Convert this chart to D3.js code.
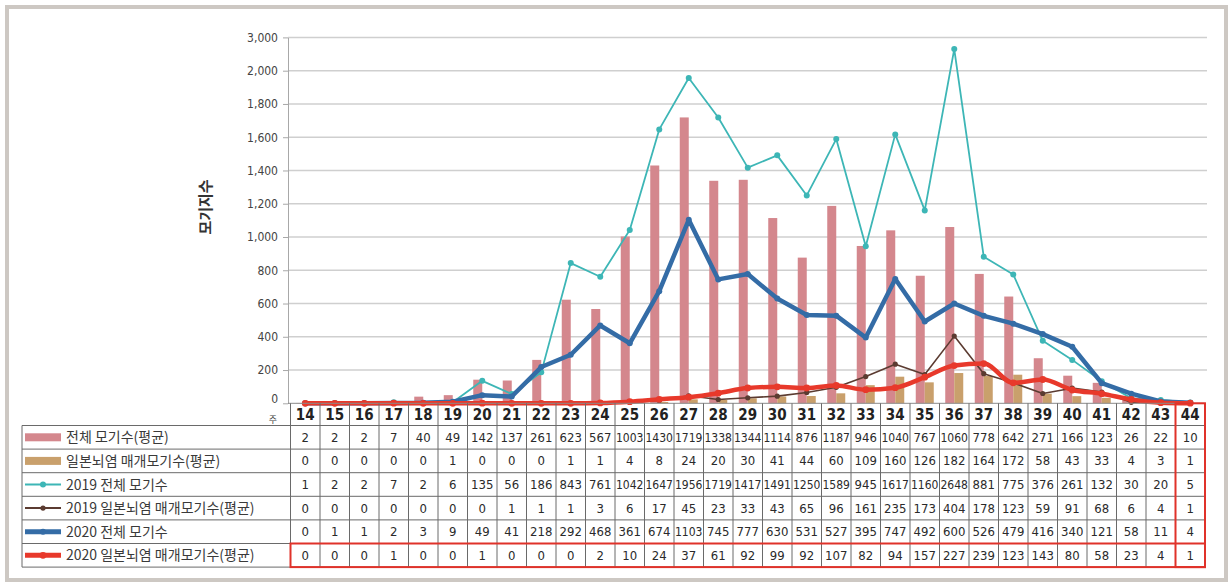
<!DOCTYPE html>
<html>
<head>
<meta charset="utf-8">
<script src="https://cdn.jsdelivr.net/npm/d3@7/dist/d3.min.js"></script>
<style>
  body { margin: 0; background: #fff; }
  svg text { font-family: "DejaVu Sans Condensed", "DejaVu Sans", sans-serif; }
  .kr { font-family: "Noto Sans CJK KR", "Noto Sans", sans-serif; }
</style>
</head>
<body>
<div id="chart"></div>
<script>
// weeks (x categories)
const weeks = ["14","15","16","17","18","19","20","21","22","23","24","25","26","27","28","29","30","31","32","33","34","35","36","37","38","39","40","41","42","43","44"];

// y tick labels (axis is broken above 2,000)
const yTicks = [0, 200, 400, 600, 800, 1000, 1200, 1400, 1600, 1800, 2000, 3000];

// series values, one per week
const avgTotal = [2,2,2,7,40,49,142,137,261,623,567,1003,1430,1719,1338,1344,1114,876,1187,946,1040,767,1060,778,642,271,166,123,26,22,10];
const avgJE = [0,0,0,0,0,1,0,0,0,1,1,4,8,24,20,30,41,44,60,109,160,126,182,164,172,58,43,33,4,3,1];
const total2019 = [1,2,2,7,2,6,135,56,186,843,761,1042,1647,1956,1719,1417,1491,1250,1589,945,1617,1160,2648,881,775,376,261,132,30,20,5];
const je2019 = [0,0,0,0,0,0,0,1,1,1,3,6,17,45,23,33,43,65,96,161,235,173,404,178,123,59,91,68,6,4,1];
const total2020 = [0,1,1,2,3,9,49,41,218,292,468,361,674,1103,745,777,630,531,527,395,747,492,600,526,479,416,340,121,58,11,4];
const je2020 = [0,0,0,1,0,0,1,0,0,0,2,10,24,37,61,92,99,92,107,82,94,157,227,239,123,143,80,58,23,4,1];

// series names (table row labels)
const barNames = ["전체 모기수(평균)", "일본뇌염 매개모기수(평균)"];
const lineNames = ["2019 전체 모기수", "2019 일본뇌염 매개모기수(평균)", "2020 전체 모기수", "2020 일본뇌염 매개모기수(평균)"];

// styles kept apart from the data
const barColors = ["#d4878d", "#c9a06c"];
const lineStyle = [
  {color: "#3db6b6", width: 1.8, r: 3},
  {color: "#5b3b31", width: 1.6, r: 2.6},
  {color: "#346ca6", width: 4.5, r: 3},
  {color: "#e8392b", width: 4.5, r: 3.4}
];

const W = 1229, H = 583;

const svg = d3.select("#chart").append("svg")
  .attr("width", W)
  .attr("height", H);

// outer frame
svg.append("rect")
  .attr("x", 7).attr("y", 7)
  .attr("width", 1219).attr("height", 573)
  .attr("fill", "#fff")
  .attr("stroke", "#cdc8c3")
  .attr("stroke-width", 4);

// scales
const x = d3.scaleBand().domain(weeks).range([290.5, 1205]);
const y = d3.scaleLinear().domain([0, 2000, 3000]).range([403.3, 70.7, 37.4]);
const xSub = d3.scaleBand().domain(barNames).range([-9, 9]);
const cx = w => x(w) + x.bandwidth() / 2;

const gridRight = 1207, axisX = 288;

// gridlines
svg.append("g")
  .selectAll("line")
  .data(yTicks.filter(t => t > 0))
  .enter().append("line")
    .attr("x1", axisX).attr("x2", gridRight)
    .attr("y1", d => y(d)).attr("y2", d => y(d))
    .attr("stroke", "#cfcfcf")
    .attr("stroke-width", 1.5);

// y axis
const yAxis = svg.append("g")
  .attr("transform", `translate(${axisX},0)`)
  .call(d3.axisLeft(y).tickValues(yTicks).tickSize(5).tickSizeOuter(0).tickFormat(d3.format(",")));
yAxis.select(".domain").attr("stroke", "#a8a8a8");
yAxis.selectAll(".tick line").attr("stroke", "#a8a8a8");
yAxis.selectAll(".tick text")
  .attr("x", -10)
  .attr("fill", "#444")
  .attr("font-size", 12)
  .attr("font-family", "DejaVu Sans Condensed, sans-serif");
// zero label sits a bit higher to leave room for "주"
yAxis.selectAll(".tick text").filter(d => d === 0).attr("dy", "-0.05em");

// y title
svg.append("text")
  .attr("class", "kr")
  .attr("transform", "translate(211,207) rotate(-90)")
  .attr("text-anchor", "middle")
  .attr("font-size", 15)
  .attr("font-weight", "bold")
  .attr("fill", "#333")
  .text("모기지수");

// bars
const barSeries = [avgTotal, avgJE];
barSeries.forEach((vals, s) => {
  svg.append("g")
    .selectAll("rect")
    .data(vals)
    .enter().append("rect")
      .attr("x", (d, i) => cx(weeks[i]) + xSub(barNames[s]))
      .attr("width", xSub.bandwidth())
      .attr("y", d => y(d))
      .attr("height", d => y(0) - y(d))
      .attr("fill", barColors[s]);
});

// lines
const lineSeries = [total2019, je2019, total2020, je2020];
lineSeries.forEach((vals, s) => {
  const st = lineStyle[s];
  const line = d3.line()
    .x((d, i) => cx(weeks[i]))
    .y(d => y(d));
  if (s === 3) line.curve(d3.curveMonotoneX);

  svg.append("path")
    .datum(vals)
    .attr("fill", "none")
    .attr("stroke", st.color)
    .attr("stroke-width", st.width)
    .attr("stroke-linejoin", "round")
    .attr("d", line);

  svg.append("g")
    .selectAll("circle")
    .data(vals)
    .enter().append("circle")
      .attr("cx", (d, i) => cx(weeks[i]))
      .attr("cy", d => y(d))
      .attr("r", st.r)
      .attr("fill", st.color);
});

// "주" under zero label
svg.append("text")
  .attr("class", "kr")
  .attr("x", 273).attr("y", 423)
  .attr("text-anchor", "middle")
  .attr("font-size", 9)
  .attr("fill", "#444")
  .text("주");

// data table
const tableTop = 403.3, headH = 22.2, rowH = 23.6;
const labelLeft = 22, tableRight = x.range()[1];
const rows = [avgTotal, avgJE, total2019, je2019, total2020, je2020];
const rowNames = barNames.concat(lineNames);
const bodyTop = tableTop + headH;
const tableBottom = bodyTop + rows.length * rowH;

const table = svg.append("g");

// header numbers
table.selectAll(".wk")
  .data(weeks)
  .enter().append("text")
    .attr("x", d => cx(d))
    .attr("y", tableTop + headH / 2 + 5.5)
    .attr("text-anchor", "middle")
    .attr("font-size", 15)
    .attr("font-weight", "bold")
    .attr("fill", "#222")
    .text(d => d);

// horizontal lines
table.selectAll(".hl")
  .data(d3.range(rows.length + 1))
  .enter().append("line")
    .attr("x1", labelLeft).attr("x2", tableRight)
    .attr("y1", i => bodyTop + i * rowH).attr("y2", i => bodyTop + i * rowH)
    .attr("stroke", "#6a6a6a").attr("stroke-width", 1);

// baseline of plot / top of header
table.append("line")
  .attr("x1", axisX).attr("x2", tableRight)
  .attr("y1", tableTop).attr("y2", tableTop)
  .attr("stroke", "#8a8a8a");

// vertical lines
table.selectAll(".vl")
  .data(weeks.concat(["end"]))
  .enter().append("line")
    .attr("x1", d => d === "end" ? tableRight : x(d))
    .attr("x2", d => d === "end" ? tableRight : x(d))
    .attr("y1", tableTop).attr("y2", tableBottom)
    .attr("stroke", "#6a6a6a").attr("stroke-width", 1);

table.append("line")
  .attr("x1", labelLeft).attr("x2", labelLeft)
  .attr("y1", bodyTop).attr("y2", tableBottom)
  .attr("stroke", "#6a6a6a");

// row cells
rows.forEach((vals, r) => {
  const cy = bodyTop + r * rowH + rowH / 2 + 4.5;
  table.append("g")
    .selectAll("text")
    .data(vals)
    .enter().append("text")
      .attr("x", (d, i) => cx(weeks[i]))
      .attr("y", cy)
      .attr("text-anchor", "middle")
      .attr("font-size", 13)
      .attr("fill", "#2a2a2a")
      .text(d => d)
      .each(function() {
        if (this.getComputedTextLength() > x.bandwidth() - 2) {
          d3.select(this).attr("textLength", x.bandwidth() - 2).attr("lengthAdjust", "spacingAndGlyphs");
        }
      });
});

// row labels with legend keys
rowNames.forEach((name, r) => {
  const my = bodyTop + r * rowH + rowH / 2;
  if (r < 2) {
    table.append("rect")
      .attr("x", 25).attr("y", my - 4)
      .attr("width", 36).attr("height", 8)
      .attr("fill", barColors[r]);
  } else {
    const st = lineStyle[r - 2];
    table.append("line")
      .attr("x1", 25).attr("x2", 61)
      .attr("y1", my).attr("y2", my)
      .attr("stroke", st.color)
      .attr("stroke-width", st.width > 3 ? 5 : 2);
    table.append("circle")
      .attr("cx", 43).attr("cy", my)
      .attr("r", st.r)
      .attr("fill", st.color);
  }
  table.append("text")
    .attr("class", "kr")
    .attr("x", 66).attr("y", my + 5)
    .attr("font-size", 14)
    .attr("fill", "#3a3a3a")
    .text(name);
});

// red highlight boxes
const hl = svg.append("g").attr("fill", "none").attr("stroke", "#e0322a").attr("stroke-width", 2);
hl.append("rect")
  .attr("x", x(weeks[0])).attr("y", tableBottom - rowH)
  .attr("width", tableRight - x(weeks[0])).attr("height", rowH);
hl.append("rect")
  .attr("x", x("44")).attr("y", tableTop)
  .attr("width", x.bandwidth()).attr("height", tableBottom - tableTop);
</script>
</body>
</html>
